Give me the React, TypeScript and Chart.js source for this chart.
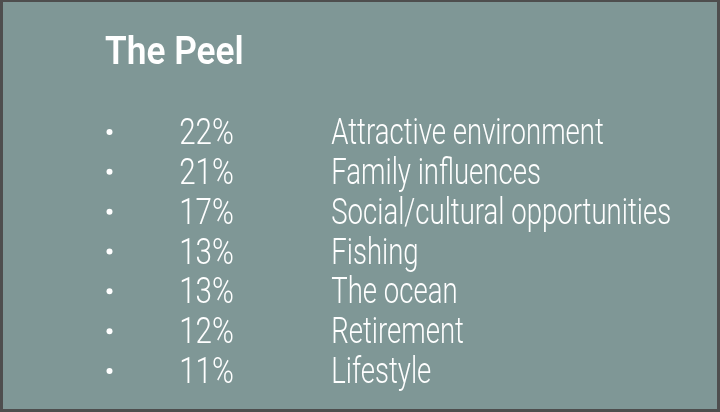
import React, { useEffect, useRef } from 'react';
import { Chart, registerables } from 'chart.js';

Chart.register(...registerables);

const TITLE = 'The Peel';
const reasons = [
  'Attractive environment',
  'Family influences',
  'Social/cultural opportunities',
  'Fishing',
  'The ocean',
  'Retirement',
  'Lifestyle',
];
const shares = [22, 21, 17, 13, 13, 12, 11];

const BG = '#7f9796';
const BORDER = '#4e4e4e';
const TEXT = '#ffffff';
const FAMILY = 'Roboto, "Liberation Sans", "DejaVu Sans", sans-serif';

function fitFont(ctx: CanvasRenderingContext2D, text: string, weight: string, cap: number, inkWidth: number) {
  ctx.font = `${weight} 100px ${FAMILY}`;
  const capH = ctx.measureText('H').actualBoundingBoxAscent || 71;
  const size = (100 * cap) / capH;
  ctx.font = `${weight} ${size}px ${FAMILY}`;
  const m = ctx.measureText(text);
  const w = (m.actualBoundingBoxLeft || 0) + (m.actualBoundingBoxRight || m.width);
  const left = -(m.actualBoundingBoxLeft || 0);
  return { font: ctx.font, sx: inkWidth / w, left, capH: cap };
}

function drawText(ctx: CanvasRenderingContext2D, text: string, f: { font: string; sx: number; left: number }, x: number, baseline: number) {
  ctx.save();
  ctx.font = f.font;
  ctx.translate(x, baseline);
  ctx.scale(f.sx, 1);
  ctx.textAlign = 'left';
  ctx.textBaseline = 'alphabetic';
  ctx.fillText(text, -f.left, 0);
  ctx.restore();
}

const listPlugin = {
  id: 'peelList',
  beforeDraw(chart: any) {
    const { ctx, width, height } = chart;
    ctx.save();
    ctx.fillStyle = BORDER;
    ctx.fillRect(0, 0, width, height);
    ctx.fillStyle = BG;
    ctx.fillRect(3, 2, width - 6, height - 5);
    ctx.restore();
  },
  afterDraw(chart: any) {
    const ctx: CanvasRenderingContext2D = chart.ctx;
    const yScale = chart.scales.y;
    ctx.save();
    ctx.fillStyle = TEXT;

    const titleFont = fitFont(ctx, TITLE, '600', 27, 137);
    drawText(ctx, TITLE, titleFont, 105, 64);

    const pctFont = fitFont(ctx, '22%', '300', 26, 53);
    const labelFont = fitFont(ctx, 'Social/cultural opportunities', '300', 26, 338);

    reasons.forEach((label, i) => {
      const cy = yScale.getPixelForValue(i);
      const baseline = cy + 13;
      ctx.beginPath();
      ctx.arc(109.5, cy + 1, 3, 0, Math.PI * 2);
      ctx.fill();
      drawText(ctx, `${shares[i]}%`, pctFont, 180, baseline);
      drawText(ctx, label, labelFont, 332, baseline);
    });
    ctx.restore();
  },
};

export default function App() {
  const ref = useRef<HTMLCanvasElement | null>(null);
  useEffect(() => {
    if (!ref.current) return;
    const chart = new Chart(ref.current, {
      type: 'bar',
      data: {
        labels: reasons,
        datasets: [
          {
            data: shares,
            backgroundColor: 'rgba(0,0,0,0)',
            borderWidth: 0,
          },
        ],
      },
      options: {
        animation: false,
        responsive: false,
        indexAxis: 'y',
        layout: { padding: { top: 111, bottom: 22, left: 100, right: 40 } },
        plugins: {
          legend: { display: false },
          title: { display: false },
          tooltip: { enabled: false },
        },
        scales: {
          x: { display: false, min: 0, max: 25 },
          y: { display: false },
        },
      },
      plugins: [listPlugin],
    });
    return () => chart.destroy();
  }, []);
  return (
    <div style={{ position: 'fixed', left: 0, top: 0, width: 720, height: 412 }}>
      <canvas ref={ref} width={720} height={412} style={{ display: 'block', width: 720, height: 412 }} />
    </div>
  );
}
